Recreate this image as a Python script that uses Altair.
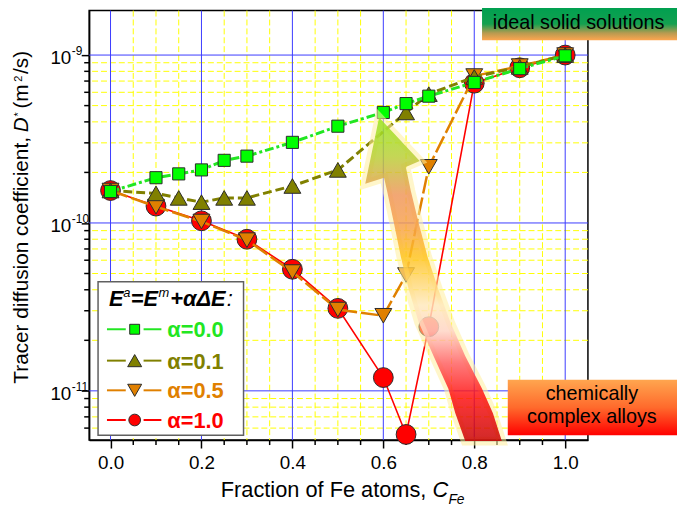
import altair as alt
import pandas as pd

# ---------------- data ----------------
x_a00 = [0.0, 0.1, 0.15, 0.2, 0.25, 0.3, 0.4, 0.5, 0.6, 0.65, 0.7, 0.8, 0.9, 1.0]
d_a00 = [1.54e-10, 1.86e-10, 1.96e-10, 2.07e-10, 2.36e-10, 2.50e-10, 3.02e-10,
         3.77e-10, 4.55e-10, 5.14e-10, 5.69e-10, 6.87e-10, 8.3e-10, 9.9e-10]
x_a01 = [0.0, 0.1, 0.15, 0.2, 0.25, 0.3, 0.4, 0.5, 0.65, 0.7, 0.8, 0.9, 1.0]
d_a01 = [1.56e-10, 1.50e-10, 1.41e-10, 1.33e-10, 1.41e-10, 1.41e-10, 1.66e-10,
         2.07e-10, 4.55e-10, 5.85e-10, 7.4e-10, 8.5e-10, 1.0e-9]
x_a05 = [0.0, 0.1, 0.2, 0.3, 0.4, 0.5, 0.6, 0.65, 0.7, 0.8, 0.9, 1.0]
d_a05 = [1.56e-10, 1.25e-10, 1.02e-10, 7.9e-11, 5.1e-11, 3.05e-11, 2.8e-11,
         4.9e-11, 2.16e-10, 7.5e-10, 8.6e-10, 1.0e-9]
x_a10 = [0.0, 0.1, 0.2, 0.3, 0.4, 0.5, 0.6, 0.65, 0.7, 0.8, 0.9, 1.0]
d_a10 = [1.56e-10, 1.26e-10, 1.03e-10, 8.0e-11, 5.3e-11, 3.1e-11, 1.2e-11,
         5.5e-12, 2.41e-11, 6.8e-10, 8.4e-10, 1.0e-9]

series_names = ["α=0.0", "α=0.1", "α=0.5", "α=1.0"]

x_major = [0.0, 0.2, 0.4, 0.6, 0.8, 1.0]
x_minor = [0.05, 0.1, 0.15, 0.25, 0.3, 0.35, 0.45, 0.5, 0.55, 0.65, 0.7, 0.75,
           0.85, 0.9, 0.95]
y_major = [1e-11, 1e-10, 1e-9]
y_minor = [6e-12, 7e-12, 8e-12, 9e-12,
           2e-11, 3e-11, 4e-11, 5e-11, 6e-11, 7e-11, 8e-11, 9e-11,
           2e-10, 3e-10, 4e-10, 5e-10, 6e-10, 7e-10, 8e-10, 9e-10]
y_exp = ["-11", "-10", "-9"]

# ---------------- tables ----------------
rows = []
for name, xs, ds in zip(series_names, [x_a00, x_a01, x_a05, x_a10],
                        [d_a00, d_a01, d_a05, d_a10]):
    for a, b in zip(xs, ds):
        rows.append({"x": a, "D": b, "series": name})
df = pd.DataFrame(rows)

one = pd.DataFrame({"k": [0]})
FONT = "Liberation Sans"

W, H = 504, 434

X = alt.X("x:Q", scale=alt.Scale(domain=[-0.047, 1.05], nice=False, zero=False),
          axis=alt.Axis(values=x_major, format=".1f", title=None, grid=False,
                        labelFontSize=19, labelFont=FONT, labelColor="black",
                        tickSize=8, tickWidth=1.5, tickColor="black",
                        domainColor="black", domainWidth=1.5, labelPadding=6))
Y = alt.Y("D:Q", scale=alt.Scale(type="log", domain=[5.09e-12, 1.84e-9], nice=False),
          axis=alt.Axis(values=y_major, labels=False, title=None, grid=False,
                        tickSize=8, tickWidth=1.5, tickColor="black",
                        domainColor="black", domainWidth=1.5))

layers = []

# grid
layers.append(alt.Chart(pd.DataFrame({"x": x_minor})).mark_rule(
    color="#ffff00", strokeWidth=1, strokeDash=[6, 3]).encode(x=X))
layers.append(alt.Chart(pd.DataFrame({"D": y_minor})).mark_rule(
    color="#ffff00", strokeWidth=1, strokeDash=[6, 3]).encode(y=Y))
layers.append(alt.Chart(pd.DataFrame({"x": x_major})).mark_rule(
    color="#3b3bff", strokeWidth=1).encode(x=X))
layers.append(alt.Chart(pd.DataFrame({"D": y_major})).mark_rule(
    color="#3b3bff", strokeWidth=1).encode(y=Y))

# minor ticks
layers.append(alt.Chart(pd.DataFrame({"x": x_minor})).mark_rule(
    color="black", strokeWidth=1.5).encode(x=X, y=alt.value(H), y2=alt.value(H + 5)))
layers.append(alt.Chart(pd.DataFrame({"D": y_minor})).mark_rule(
    color="black", strokeWidth=1.5).encode(y=Y, x=alt.value(-5), x2=alt.value(0)))

# y tick labels 10^n
ylab = pd.DataFrame({"D": y_major, "e": y_exp})
layers.append(alt.Chart(ylab).mark_text(text="10", font=FONT, fontSize=19, align="right",
                                        baseline="middle", dy=3, color="black")
              .encode(y=Y, x=alt.value(-18)))
layers.append(alt.Chart(ylab).mark_text(font=FONT, fontSize=12, align="left",
                                        baseline="middle", dy=-4, color="black")
              .encode(y=Y, x=alt.value(-17.5), text="e:N"))

# series: drawn red first, green on top
styles = {
    "α=1.0": dict(line="#ff0000", dash=None, w=1.6, shape="circle", fill="#ff0000", size=400),
    "α=0.5": dict(line="#e08000", dash=[18, 4], w=2.5, shape="triangle-down", fill="#e08000", size=290),
    "α=0.1": dict(line="#808000", dash=[9, 4], w=3, shape="triangle-up", fill="#808000", size=290),
    "α=0.0": dict(line="#22e622", dash=[9, 3, 3, 3], w=3, shape="square", fill="#00ff00", size=150),
}
for name in ["α=1.0", "α=0.5", "α=0.1", "α=0.0"]:
    s = styles[name]
    d = df[df.series == name]
    lk = dict(color=s["line"], strokeWidth=s["w"])
    if s["dash"]:
        lk["strokeDash"] = s["dash"]
    layers.append(alt.Chart(d).mark_line(**lk).encode(x=X, y=Y))
    layers.append(alt.Chart(d).mark_point(shape=s["shape"], filled=True, fill=s["fill"],
                                          stroke="#2a2a2a", strokeWidth=1,
                                          size=s["size"], opacity=1).encode(x=X, y=Y))

# ---------------- big curved arrow (annotation) ----------------
arrow_pts = [(383, 116), (424, 160), (410, 166), (415, 190), (423, 223), (432, 257),
             (443, 290), (455, 323), (470, 357), (487, 390), (498, 415), (507, 443),
             (470, 443), (460, 415), (453, 390), (438, 357), (423, 323), (413, 290),
             (405, 257), (398, 223), (391, 190), (388, 177), (369, 183)]
cx, cy, r = 438.0, 279.5, 163.5
arrow_path = "M" + "L".join(f"{(px - cx) / r:.4f},{(py - cy) / r:.4f}" for px, py in arrow_pts) + "Z"
arrow_grad = alt.LinearGradient(
    gradient="linear", x1=0, y1=0, x2=0, y2=1,
    stops=[alt.GradientStop(offset=0.0, color="#96e61e"),
           alt.GradientStop(offset=0.12, color="#b9cf35"),
           alt.GradientStop(offset=0.24, color="#f0965a"),
           alt.GradientStop(offset=0.34, color="#f7a24c"),
           alt.GradientStop(offset=0.43, color="#ffc31e"),
           alt.GradientStop(offset=0.58, color="#ffe9bc"),
           alt.GradientStop(offset=0.66, color="#ffd4c4"),
           alt.GradientStop(offset=0.76, color="#ff6060"),
           alt.GradientStop(offset=0.86, color="#ff1010"),
           alt.GradientStop(offset=1.0, color="#c80000")])
ax, ay, asz = cx - 90, cy - 8, (2 * r) ** 2
layers.append(alt.Chart(one).mark_point(shape=arrow_path, size=asz, filled=False,
                                        stroke="#fff0a0", strokeWidth=9, opacity=0.55)
              .encode(x=alt.value(ax), y=alt.value(ay)))
layers.append(alt.Chart(one).mark_point(shape=arrow_path, size=asz, filled=True,
                                        fill=arrow_grad, strokeWidth=0, opacity=0.84)
              .encode(x=alt.value(ax), y=alt.value(ay)))


def txt(s, x, y, size, color="black", style="normal", weight="normal", align="left", angle=None):
    kw = dict(text=s, font=FONT, fontSize=size, color=color, fontStyle=style,
              fontWeight=weight, align=align, baseline="alphabetic")
    if angle is not None:
        kw["angle"] = angle
    return alt.Chart(one).mark_text(**kw).encode(x=alt.value(x), y=alt.value(y))


def box(x1, x2, y1, y2, **mk):
    return alt.Chart(one).mark_rect(**mk).encode(
        x=alt.value(x1), x2=alt.value(x2), y=alt.value(y1), y2=alt.value(y2))


# ---------------- label boxes ----------------
ideal_grad = alt.LinearGradient(
    gradient="linear", x1=0, y1=0, x2=0, y2=1,
    stops=[alt.GradientStop(offset=0.0, color="#00a050"),
           alt.GradientStop(offset=0.5, color="#14a050"),
           alt.GradientStop(offset=0.78, color="#b89a50"),
           alt.GradientStop(offset=1.0, color="#ffa64f")])
chem_grad = alt.LinearGradient(
    gradient="linear", x1=0, y1=0, x2=0, y2=1,
    stops=[alt.GradientStop(offset=0.0, color="#ffa64f"),
           alt.GradientStop(offset=0.5, color="#ff6a2c"),
           alt.GradientStop(offset=1.0, color="#ff0000")])
layers.append(box(397, 594, -3, 30, fill=ideal_grad))
layers.append(txt("ideal solid solutions", 494.5, 19, 20, align="center"))
layers.append(box(423, 594, 373, 429, fill=chem_grad))
layers.append(txt("chemically", 508, 393.7, 20, align="center"))
layers.append(txt("complex alloys", 508, 417, 20, align="center"))

# ---------------- legend ----------------
layers.append(box(9, 156, 274, 429, fill="white", stroke="#606060", strokeWidth=1.5))
layers.append(txt("E", 20, 298, 22, style="italic", weight="bold"))
layers.append(txt("a", 34.5, 289, 13, style="italic"))
layers.append(txt("=E", 42, 298, 22, style="italic", weight="bold"))
layers.append(txt("m", 70, 289, 13, style="italic"))
layers.append(txt("+αΔE", 82, 298, 22, style="italic", weight="bold"))
layers.append(txt(":", 139, 298, 22, style="italic"))

leg_rows = [322, 353.7, 383.7, 413.7]
leg_text_col = {"α=0.0": "#22e622", "α=0.1": "#808000", "α=0.5": "#e08000", "α=1.0": "#ff0000"}
leg_size = {"α=0.0": 100, "α=0.1": 200, "α=0.5": 200, "α=1.0": 140}
for name, yy in zip(series_names, leg_rows):
    s = styles[name]
    for xa, xb in [(18, 37), (55, 73)]:
        layers.append(alt.Chart(one).mark_rule(color=s["line"], strokeWidth=2).encode(
            x=alt.value(xa), x2=alt.value(xb), y=alt.value(yy)))
    layers.append(alt.Chart(one).mark_point(shape=s["shape"], filled=True, fill=s["fill"],
                                            stroke="#2a2a2a", strokeWidth=1,
                                            size=leg_size[name], opacity=1)
                  .encode(x=alt.value(46), y=alt.value(yy)))
    layers.append(txt(name, 79, yy + 8, 22, color=leg_text_col[name], weight="bold"))

# ---------------- axis titles ----------------
layers.append(txt("Fraction of Fe atoms,", 133, 491, 22))
layers.append(txt("C", 347, 491, 22, style="italic"))
layers.append(txt("Fe", 363, 499, 14, style="italic"))

yb = -62
layers.append(txt("Tracer diffusion coefficient,", yb, 377, 21, angle=270))
layers.append(txt("D", yb, 123, 21, style="italic", angle=270))
layers.append(txt("*", yb - 6, 107, 11, angle=270))
layers.append(txt("(m", yb, 99, 21, angle=270))
layers.append(txt("2", yb - 6, 72, 11, angle=270))
layers.append(txt("/s)", yb, 64, 21, angle=270))

chart = alt.layer(*layers).properties(
    width=W, height=H,
    padding={"left": 82, "top": 0, "right": 90, "bottom": 67},
    autosize=alt.AutoSizeParams(type="none"),
    background="white",
).configure_view(stroke="black", strokeWidth=1.5)

chart.save("out.html", embed_options={"renderer": "svg", "actions": False})
